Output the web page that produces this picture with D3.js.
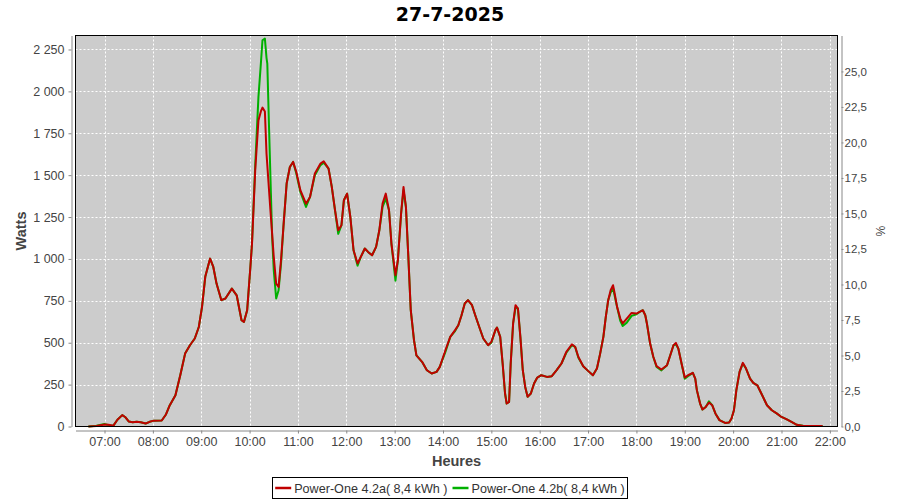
<!DOCTYPE html>
<html><head><meta charset="utf-8">
<script src="https://cdn.jsdelivr.net/npm/d3@7/dist/d3.min.js"></script>
<style>
body{margin:0;background:#fff;}
svg{display:block;}
</style></head>
<body><svg id="c" width="900" height="500"></svg>
<script>
// ---- data ----
const chartTitle = "27-7-2025";
const seriesNames = ["Power-One 4.2a( 8,4 kWh )", "Power-One 4.2b( 8,4 kWh )"];
const hourTicks = ["07:00","08:00","09:00","10:00","11:00","12:00","13:00","14:00","15:00","16:00","17:00","18:00","19:00","20:00","21:00","22:00"];
const wattTicks = [0,250,500,750,1000,1250,1500,1750,2000,2250];
const pctTicks = [0,2.5,5,7.5,10,12.5,15,17.5,20,22.5,25];
const times = ["06:40","06:50","07:00","07:05","07:11","07:16","07:22","07:26","07:30","07:35","07:40","07:45","07:51","07:56","08:01","08:11","08:16","08:21","08:28","08:34","08:40","08:46","08:52","08:57","09:01","09:05","09:11","09:15","09:19","09:25","09:30","09:38","09:44","09:50","09:53","09:57","10:01","10:03","10:07","10:11","10:14","10:16","10:19","10:21","10:22","10:24","10:26","10:28","10:30","10:33","10:36","10:39","10:42","10:46","10:50","10:54","10:58","11:03","11:10","11:15","11:21","11:28","11:32","11:38","11:42","11:46","11:50","11:54","11:57","12:01","12:05","12:09","12:14","12:18","12:23","12:27","12:32","12:37","12:41","12:45","12:49","12:53","12:56","13:01","13:04","13:08","13:11","13:14","13:17","13:20","13:24","13:27","13:34","13:40","13:46","13:52","13:56","14:03","14:09","14:15","14:19","14:23","14:27","14:31","14:36","14:40","14:45","14:50","14:56","15:00","15:05","15:07","15:11","15:14","15:17","15:19","15:22","15:24","15:27","15:30","15:33","15:36","15:39","15:42","15:45","15:49","15:53","15:57","16:02","16:09","16:15","16:21","16:27","16:33","16:40","16:44","16:48","16:54","17:00","17:06","17:11","17:15","17:19","17:22","17:25","17:28","17:31","17:33","17:36","17:40","17:43","17:48","17:54","18:00","18:04","18:08","18:11","18:13","18:17","18:21","18:25","18:31","18:38","18:42","18:46","18:49","18:52","18:56","19:00","19:04","19:10","19:13","19:15","19:19","19:22","19:26","19:30","19:34","19:38","19:43","19:50","19:55","19:58","20:01","20:04","20:08","20:12","20:16","20:21","20:25","20:30","20:35","20:42","20:48","20:54","21:00","21:06","21:13","21:19","21:27","21:51"];
const powerA = [0,3,12,10,5,40,68,55,30,25,28,25,18,28,35,36,70,127,187,306,435,485,525,594,714,893,1002,952,853,754,764,823,783,634,624,694,952,1092,1529,1827,1880,1903,1880,1629,1560,1420,1280,1150,1012,853,833,992,1191,1450,1549,1579,1519,1410,1330,1370,1510,1569,1583,1539,1430,1291,1171,1201,1350,1390,1251,1052,973,1012,1062,1042,1022,1072,1171,1330,1390,1291,1092,903,992,1271,1430,1310,1012,694,515,425,386,336,316,326,356,455,535,575,604,664,734,754,724,664,594,525,485,505,575,590,535,376,197,137,147,376,615,724,704,535,336,236,177,197,257,292,306,296,300,336,376,445,491,475,415,360,332,306,346,435,535,654,754,813,843,794,714,644,615,644,678,674,684,694,664,615,495,415,360,340,366,425,485,499,465,376,292,306,320,286,217,137,101,117,143,127,78,38,21,24,48,97,217,326,380,346,286,260,246,197,127,97,78,57,44,26,10,3,3];
const powerB = [0,5,15,8,5,40,68,55,30,25,28,25,18,28,35,36,70,127,187,306,435,485,525,594,714,893,1002,952,853,754,764,823,783,634,624,694,952,1092,1560,1967,2166,2305,2315,2200,2166,1808,1470,1131,933,764,813,970,1191,1450,1549,1579,1510,1400,1310,1370,1500,1560,1575,1539,1430,1291,1150,1201,1350,1390,1251,1052,960,1012,1062,1042,1022,1072,1171,1310,1360,1291,1092,870,992,1271,1410,1310,1012,694,515,425,386,336,316,326,356,445,535,570,604,664,734,754,724,664,594,525,485,500,575,590,535,376,197,137,147,376,615,710,704,535,336,236,177,197,257,292,306,296,300,336,376,440,485,475,410,360,332,306,346,435,535,654,754,800,825,780,714,630,600,620,660,670,684,694,664,615,495,415,355,335,366,425,485,490,465,376,285,300,320,286,217,137,101,117,150,127,78,38,21,24,48,97,217,326,375,346,286,260,246,197,127,97,78,57,44,26,10,5,3];

// ---- layout ----
const svg = d3.select("#c");
const L = 75.5, R = 837.5, T = 35.5, B = 426.5;
const day = "2025-07-27T";
const parse = s => new Date(day + s + ":00");
const x = d3.scaleTime().domain([parse("06:24"), new Date(day+"22:09:30")]).range([L, R]);
const y = d3.scaleLinear().domain([0, 2333.5]).range([B, T]);
const y2 = d3.scaleLinear().domain([0, 27.53]).range([B, T]);

const loc = d3.formatLocale({decimal:",", thousands:"\u00a0", grouping:[3], currency:["",""]});
const fmtW = loc.format(",d");
const fmtP = loc.format(".1f");
const fmtH = d3.timeFormat("%H:%M");

const FONT = "'Liberation Sans', Arial, sans-serif";
const tickCol = "#444";

// plot bg
svg.append("rect").attr("x", L).attr("y", T).attr("width", R-L).attr("height", B-T).attr("fill", "#cccccc");

// grid
const hourDates = hourTicks.map(parse);
svg.append("g").selectAll("line").data(hourDates).join("line")
  .attr("x1", d=>Math.round(x(d))+0.5).attr("x2", d=>Math.round(x(d))+0.5)
  .attr("y1", T).attr("y2", B).attr("stroke", "#fff").attr("stroke-dasharray", "2,2").attr("stroke-width", 1);
svg.append("g").selectAll("line").data(wattTicks.slice(1)).join("line")
  .attr("y1", d=>Math.round(y(d))+0.5).attr("y2", d=>Math.round(y(d))+0.5)
  .attr("x1", L).attr("x2", R).attr("stroke", "#fff").attr("stroke-dasharray", "2,2").attr("stroke-width", 1);

// lines
const ptsA = times.map((t,i)=>({t:parse(t), v:powerA[i]}));
const ptsB = times.map((t,i)=>({t:parse(t), v:powerB[i]}));
const line = d3.line().x(d=>x(d.t)).y(d=>y(d.v));
svg.append("path").datum(ptsB).attr("d", line).attr("fill","none").attr("stroke","#00b000").attr("stroke-width",2).attr("stroke-linejoin","round");
svg.append("path").datum(ptsA).attr("d", line).attr("fill","none").attr("stroke","#c00000").attr("stroke-width",2).attr("stroke-linejoin","round");

// plot outline
svg.append("rect").attr("x", L).attr("y", T).attr("width", R-L).attr("height", B-T).attr("fill", "none").attr("stroke", "#000").attr("stroke-width", 1);

// axes
function styleAxis(g){
  g.select(".domain").attr("stroke", "#888");
  g.selectAll(".tick line").attr("stroke", "#888");
  g.selectAll(".tick text").attr("fill", tickCol).style("font-family", FONT).style("font-size", "12.5px");
}
const gx = svg.append("g").attr("transform", `translate(0,${B+4})`)
  .call(d3.axisBottom(x).tickValues(hourDates).tickFormat(fmtH).tickSize(3).tickPadding(4).tickSizeOuter(0));
styleAxis(gx);
const gy = svg.append("g").attr("transform", `translate(${L-4},0)`)
  .call(d3.axisLeft(y).tickValues(wattTicks).tickFormat(fmtW).tickSize(3).tickPadding(4).tickSizeOuter(0));
styleAxis(gy);
const gy2 = svg.append("g").attr("transform", `translate(${R+4},0)`)
  .call(d3.axisRight(y2).tickValues(pctTicks).tickFormat(fmtP).tickSize(2).tickPadding(1).tickSizeOuter(0));
styleAxis(gy2);
gy2.selectAll(".tick text").style("font-size","11.5px");

// titles
svg.append("text").attr("x", 450).attr("y", 21).attr("text-anchor","middle")
  .style("font-family","'DejaVu Sans', sans-serif").style("font-weight","bold").style("font-size","19px").attr("fill","#000").text(chartTitle);
svg.append("text").attr("x", (L+R)/2).attr("y", 466).attr("text-anchor","middle")
  .style("font-family",FONT).style("font-weight","bold").style("font-size","14.5px").attr("fill","#444").text("Heures");
svg.append("text").attr("transform", `translate(26,${(T+B)/2}) rotate(-90)`).attr("text-anchor","middle")
  .style("font-family",FONT).style("font-weight","bold").style("font-size","14.5px").attr("fill","#444").text("Watts");
svg.append("text").attr("transform", `translate(876,${(T+B)/2}) rotate(90)`).attr("text-anchor","middle")
  .style("font-family",FONT).style("font-size","12px").attr("fill","#444").text("%");

// legend
const colors = ["#c00000", "#00b000"];
const lg = svg.append("g");
const box = lg.append("rect").attr("fill","#fff").attr("stroke","#000").attr("stroke-width",1);
let cx = 0;
const items = [];
seriesNames.forEach((n,i)=>{
  const g = lg.append("g");
  g.append("line").attr("x1",0).attr("x2",16).attr("y1",0).attr("y2",0).attr("stroke",colors[i]).attr("stroke-width",2.5);
  const t = g.append("text").attr("x",19).attr("y",4.5).style("font-family",FONT).style("font-size","12.6px").attr("fill","#333").text(n);
  const w = 19 + t.node().getComputedTextLength();
  items.push({g, w});
});
const gap = 5;
const totalW = items.reduce((a,b)=>a+b.w,0) + gap*(items.length-1) + 4;
const x0 = 450 - totalW/2;
let px = x0 + 2;
items.forEach(it=>{ it.g.attr("transform",`translate(${px},488)`); px += it.w + gap; });
box.attr("x", Math.round(x0)-0.5).attr("y", 477.5).attr("width", Math.round(totalW)+1).attr("height", 21);
</script></body></html>
